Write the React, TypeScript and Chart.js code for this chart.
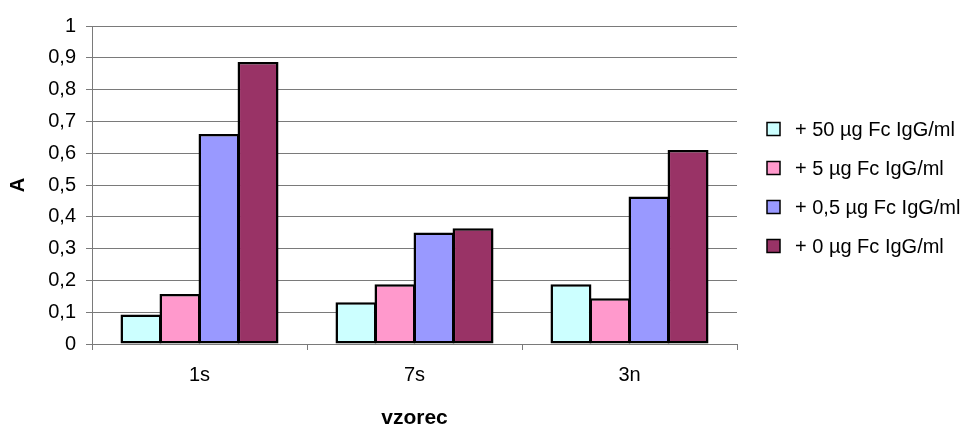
import { useEffect, useRef } from 'react';
import { Chart, registerables } from 'chart.js';

Chart.register(...registerables);

// Absorbance per sample for each added Fc IgG concentration
const categories = ['1s', '7s', '3n'];
const seriesLabels = [
  '+ 50 µg Fc IgG/ml',
  '+ 5 µg Fc IgG/ml',
  '+ 0,5 µg Fc IgG/ml',
  '+ 0 µg Fc IgG/ml',
];
const series50 = [0.093, 0.131, 0.188];
const series5 = [0.157, 0.188, 0.144];
const series05 = [0.66, 0.351, 0.464];
const series0 = [0.887, 0.364, 0.61];
const yTickLabels = ['0', '0,1', '0,2', '0,3', '0,4', '0,5', '0,6', '0,7', '0,8', '0,9', '1'];
const seriesColors = ['#CCFFFF', '#FF99CC', '#9999FF', '#993366'];

const FONT = '"Liberation Sans", Arial, sans-serif';
const GRID = '#7a7a7a';

// Legend drawn to the right of the plot area, one row per dataset
const sideLegend = {
  id: 'sideLegend',
  afterDraw(chart: any) {
    const { ctx, chartArea } = chart;
    const datasets = chart.data.datasets;
    const rowGap = 38.7;
    const midY = (chartArea.top + chartArea.bottom) / 2 + 2.5;
    const boxX = chartArea.right + 30;
    const box = 13;
    ctx.save();
    ctx.font = `20px ${FONT}`;
    ctx.textBaseline = 'middle';
    ctx.textAlign = 'left';
    datasets.forEach((ds: any, i: number) => {
      const y = Math.round(midY + (i - (datasets.length - 1) / 2) * rowGap);
      ctx.fillStyle = ds.backgroundColor;
      ctx.fillRect(boxX, y - box / 2, box, box);
      ctx.strokeStyle = '#000';
      ctx.lineWidth = 1.5;
      ctx.strokeRect(boxX, y - box / 2, box, box);
      ctx.fillStyle = '#000';
      ctx.fillText(ds.label, boxX + 28, y + 1);
    });
    ctx.restore();
  },
};

export default function App() {
  const canvasRef = useRef<HTMLCanvasElement | null>(null);

  useEffect(() => {
    if (!canvasRef.current) return;
    const values = [series50, series5, series05, series0];
    const chart = new Chart(canvasRef.current, {
      type: 'bar',
      data: {
        labels: categories,
        datasets: values.map((data, i) => ({
          label: seriesLabels[i],
          data,
          backgroundColor: seriesColors[i],
          borderColor: '#000',
          borderWidth: 2.5,
          borderSkipped: false,
          categoryPercentage: 0.726,
          barPercentage: 1.05,
        })),
      },
      options: {
        animation: false,
        responsive: true,
        maintainAspectRatio: false,
        layout: { padding: { top: 26, right: 231, bottom: 0, left: 0 } },
        plugins: {
          legend: { display: false },
          tooltip: { enabled: false },
        },
        scales: {
          x: {
            offset: true,
            grid: {
              display: true,
              drawOnChartArea: false,
              drawTicks: true,
              tickLength: 6,
              color: GRID,
              offset: true,
            },
            border: { display: true, color: GRID, width: 1 },
            ticks: {
              color: '#000',
              font: { family: FONT, size: 20 },
              padding: 13,
            },
            title: {
              display: true,
              text: 'vzorec',
              color: '#000',
              font: { family: FONT, size: 21, weight: 'bold', lineHeight: 0.85 },
              padding: { top: 0, bottom: 0 },
            },
            afterFit(scale: any) {
              scale.height = 83;
            },
          },
          y: {
            min: 0,
            max: 1,
            grid: {
              color: GRID,
              lineWidth: 1,
              drawTicks: true,
              tickLength: 6,
            },
            border: { display: true, color: GRID, width: 1 },
            ticks: {
              stepSize: 0.1,
              color: '#000',
              font: { family: FONT, size: 20 },
              padding: 10,
              callback: (_v: any, index: number) => yTickLabels[index],
            },
            title: {
              display: true,
              text: 'A',
              color: '#000',
              font: { family: FONT, size: 20, weight: 'bold' },
              padding: { top: 6.5, bottom: 0 },
            },
            afterFit(scale: any) {
              scale.width = 92;
            },
          },
        },
      },
      plugins: [sideLegend],
    });
    return () => chart.destroy();
  }, []);

  return (
    <div
      style={{
        position: 'fixed',
        left: 0,
        top: 0,
        width: 968,
        height: 427,
        background: '#fff',
      }}
    >
      <canvas ref={canvasRef} />
    </div>
  );
}
